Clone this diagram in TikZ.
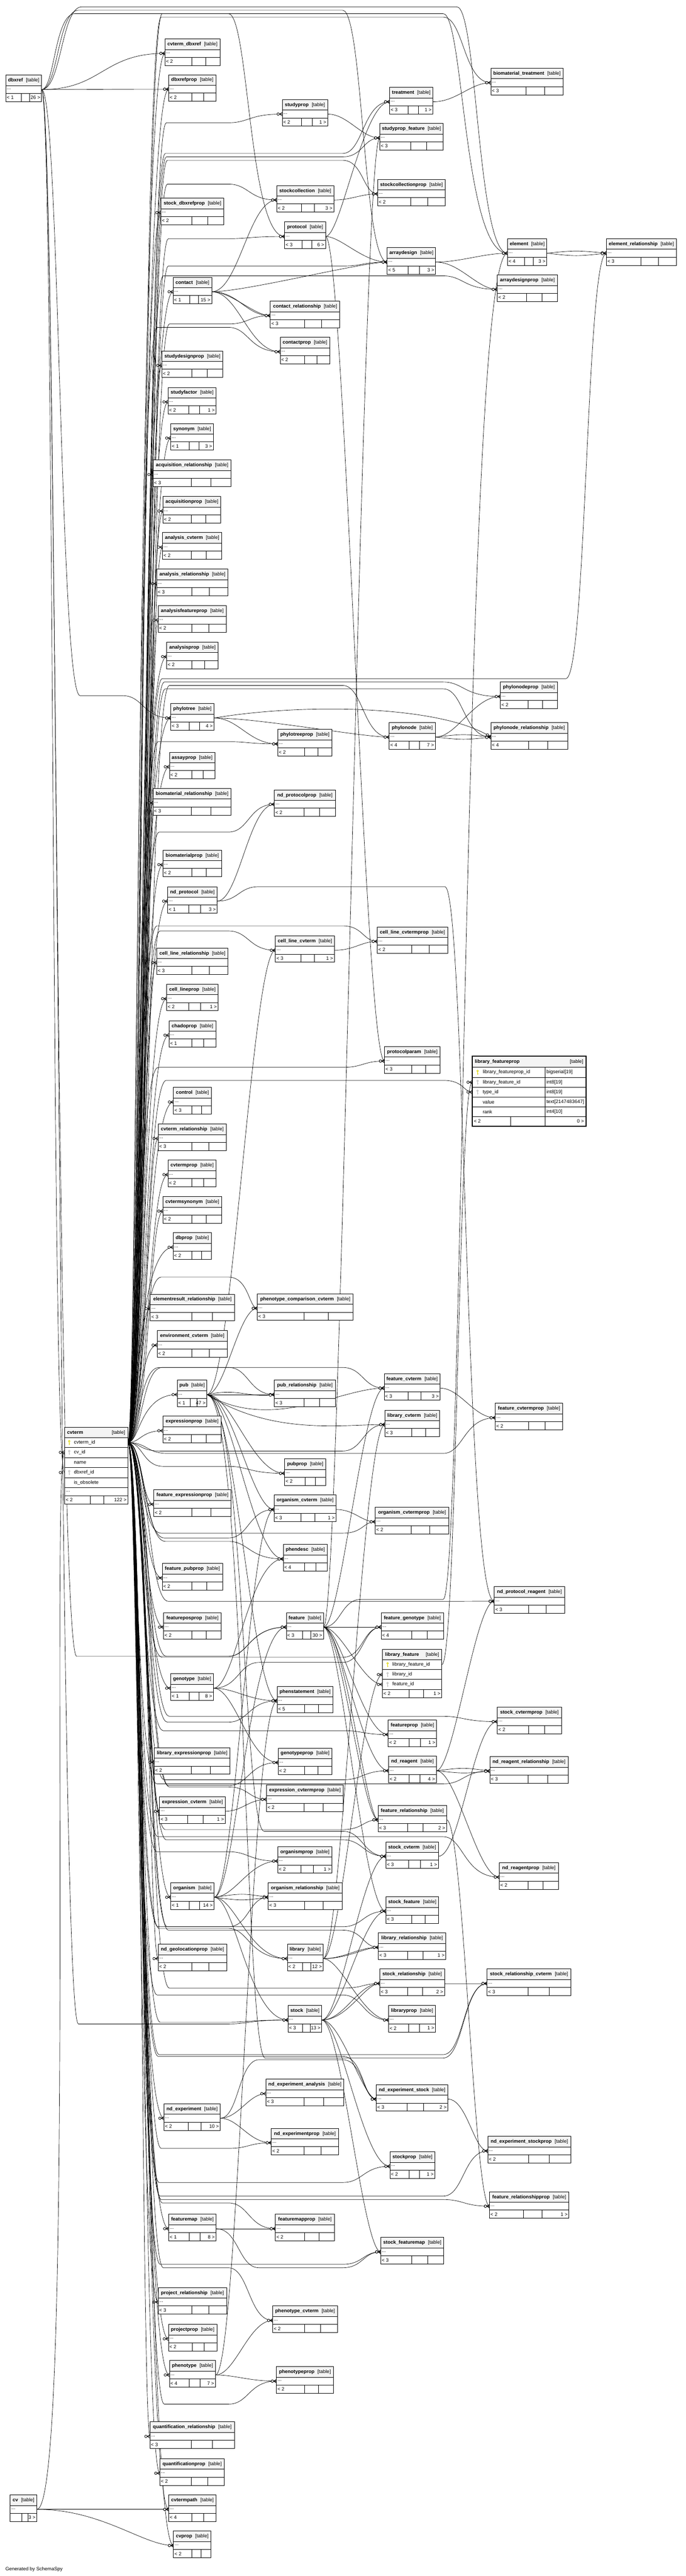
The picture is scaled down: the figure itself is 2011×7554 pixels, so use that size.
\documentclass[tikz,border=0pt]{standalone}
\usepackage{fontspec}
\setmainfont{Liberation Sans}
\usetikzlibrary{calc,backgrounds,arrows.meta}
\definecolor{pkkey}{RGB}{222,214,0}
\definecolor{fkkey}{RGB}{185,185,185}

\pgfdeclarearrow{
  name = crowo,
  parameters = {},
  setup code = {
    \pgfarrowssettipend{0pt}
    \pgfarrowssetlineend{0pt}
    \pgfarrowssetbackend{-16pt}
  },
  drawing code = {
    \pgfsetlinewidth{1.3pt}
    \pgfpathmoveto{\pgfpoint{0pt}{5pt}}
    \pgfpathlineto{\pgfpoint{-8pt}{0pt}}
    \pgfpathlineto{\pgfpoint{0pt}{-5pt}}
    \pgfpathmoveto{\pgfpoint{-8pt}{0pt}}
    \pgfpathlineto{\pgfpoint{0pt}{0pt}}
    \pgfusepathqstroke
    \pgfpathcircle{\pgfpoint{-12pt}{0pt}}{3.6pt}
    \pgfsetfillcolor{white}
    \pgfusepathqfillstroke
  }
}
\pgfdeclarearrow{
  name = baro,
  parameters = {},
  setup code = {
    \pgfarrowssettipend{0pt}
    \pgfarrowssetlineend{0pt}
    \pgfarrowssetbackend{-16pt}
  },
  drawing code = {
    \pgfsetlinewidth{1.6pt}
    \pgfpathmoveto{\pgfpoint{-5pt}{5pt}}
    \pgfpathlineto{\pgfpoint{-5pt}{-5pt}}
    \pgfusepathqstroke
    \pgfpathcircle{\pgfpoint{-12pt}{0pt}}{3.6pt}
    \pgfsetfillcolor{white}
    \pgfsetlinewidth{1.3pt}
    \pgfusepathqfillstroke
  }
}

\newcommand\tbl[6]{%
  \filldraw[tblbox] (#2,#3) rectangle ++(#4,78);
  \filldraw[tblhead] (#2,#3) rectangle ++(#4,31);
  \draw[tblline] (#2,#3+54) -- ++(#4,0);
  \if\relax\detokenize{#6}\relax
    \def\tblsa{0.49}\def\tblsb{0.74}%
  \else
    \def\tblsa{0.43}\def\tblsb{0.66}%
  \fi
  \draw[tblline] (#2+\tblsa*#4,#3+54) -- ++(0,24) (#2+\tblsb*#4,#3+54) -- ++(0,24);
  \node[celltxt] (#1-h) at (#2+#4/2,#3+16) {\textbf{\detokenize{#1}}\hspace{9pt}[table]};
  \node[dotsrow,minimum width=#4pt] (#1) at (#2+#4/2,#3+42.5) {};
  \node[celltxt,anchor=west] (#1-d) at (#2+3,#3+42) {...};
  \node[celltxt,anchor=west] (#1-p) at (#2+3,#3+66.5) {#5};
  \node[celltxt,anchor=east] (#1-c) at (#2+#4-4,#3+66.5) {#6};
}
\newcommand\keyicon[3]{%
  \draw[#3,line width=1.4pt] (#1,#2-4) circle[radius=2.4pt] (#1,#2-1.6) -- (#1,#2+7) (#1,#2+4.5) -- (#1+2.5,#2+4.5);
}

\begin{document}
\begin{tikzpicture}[x=1pt, y=-1pt,
  tblline/.style={draw=black, line width=1.3pt},
  tblbox/.style={tblline, fill=white},
  tblhead/.style={tblline, fill=gray!9},
  celltxt/.style={inner sep=0pt, outer sep=0pt, font=\fontsize{14.3}{16}\selectfont},
  dotsrow/.style={inner sep=0pt, outer sep=0pt, minimum height=23pt},
  fieldrow/.style={inner sep=0pt, outer sep=0pt, minimum height=29pt},
  link/.style={line width=1pt, -{crowo[]}},
  onelink/.style={line width=1pt, -{baro[]}},
  fk/.style 2 args={to path={let \p1=(\tikztostart), \p2=(\tikztotarget) in .. controls (#1pt,\y1) and (#2pt,\y2) .. (\tikztotarget)}},
  far/.style n args={3}{to path={let \p1=(\tikztostart), \p2=(\tikztotarget) in .. controls (#1pt,\y1) and (#1pt,-#2pt) .. (#1pt+60pt,-#2pt) -- (#3pt-60pt,-#2pt) .. controls (#3pt,-#2pt) and (#3pt,\y2) .. (\tikztotarget)}},
  fkxy/.style n args={4}{to path={.. controls (#1,#2) and (#3,#4) .. (\tikztotarget)}}]
\useasboundingbox (0,0) rectangle (2011,7554);

\tbl{dbxref}{17}{220}{105}{< 1}{26 >}
\tbl{cvterm_dbxref}{484}{114}{161}{< 2}{}
\tbl{dbxrefprop}{495}{219}{138}{< 2}{}
\tbl{studyprop}{828}{292}{133}{< 2}{1 >}
\tbl{stockcollection}{812}{544}{167}{< 2}{3 >}
\tbl{stock_dbxrefprop}{472}{581}{185}{< 2}{}
\tbl{protocol}{835}{651}{120}{< 3}{6 >}
\tbl{contact}{508}{813}{113}{< 1}{15 >}
\tbl{contact_relationship}{793}{883}{204}{< 3}{}
\tbl{contactprop}{822}{989}{145}{< 2}{}
\tbl{treatment}{1143}{256}{127}{< 3}{1 >}
\tbl{biomaterial_treatment}{1440}{200}{212}{< 3}{}
\tbl{studyprop_feature}{1114}{362}{186}{< 3}{}
\tbl{stockcollectionprop}{1108}{526}{198}{< 2}{}
\tbl{element}{1489}{700}{115}{< 4}{3 >}
\tbl{element_relationship}{1779}{700}{205}{< 3}{}
\tbl{arraydesign}{1136}{726}{142}{< 5}{3 >}
\tbl{arraydesignprop}{1459}{806}{176}{< 2}{}
\tbl{studydesignprop}{475}{1029}{179}{< 2}{}
\tbl{studyfactor}{493}{1136}{141}{< 2}{1 >}
\tbl{synonym}{501}{1242}{125}{< 1}{3 >}
\tbl{acquisition_relationship}{449}{1349}{229}{< 3}{}
\tbl{acquisitionprop}{478}{1456}{170}{< 2}{}
\tbl{analysis_cvterm}{477}{1562}{173}{< 2}{}
\tbl{analysis_relationship}{460}{1669}{209}{< 3}{}
\tbl{analysisfeatureprop}{464}{1776}{200}{< 2}{}
\tbl{analysisprop}{489}{1883}{151}{< 2}{}
\tbl{phylotree}{501}{2063}{127}{< 3}{4 >}
\tbl{phylotreeprop}{815}{2139}{159}{< 2}{}
\tbl{assayprop}{497}{2206}{133}{< 2}{}
\tbl{phylonodeprop}{1468}{2000}{167}{< 2}{}
\tbl{phylonode}{1142}{2119}{135}{< 4}{7 >}
\tbl{phylonode_relationship}{1440}{2119}{225}{< 4}{}
\tbl{biomaterial_relationship}{449}{2312}{229}{< 3}{}
\tbl{nd_protocolprop}{805}{2316}{179}{< 2}{}
\tbl{biomaterialprop}{478}{2493}{172}{< 2}{}
\tbl{nd_protocol}{492}{2600}{145}{< 1}{3 >}
\tbl{cell_line_cvtermprop}{1107}{2718}{206}{< 2}{}
\tbl{cell_line_cvterm}{808}{2744}{173}{< 3}{1 >}
\tbl{cell_line_relationship}{460}{2780}{209}{< 3}{}
\tbl{cell_lineprop}{489}{2886}{151}{< 2}{1 >}
\tbl{chadoprop}{496}{2993}{137}{< 1}{}
\tbl{protocolparam}{1128}{3069}{163}{< 3}{}
\tbl{control}{509}{3189}{111}{< 3}{}
\tbl{cvterm_relationship}{464}{3296}{200}{< 3}{}
\tbl{cvtermprop}{493}{3402}{141}{< 2}{}
\tbl{cvtermsynonym}{478}{3509}{172}{< 2}{}
\tbl{dbprop}{508}{3615}{112}{< 2}{}
\tbl{elementresult_relationship}{441}{3795}{247}{< 3}{}
\tbl{phenotype_comparison_cvterm}{755}{3794}{281}{< 3}{}
\tbl{environment_cvterm}{461}{3902}{206}{< 2}{}
\tbl{pub}{520}{4047}{87}{< 1}{47 >}
\tbl{pub_relationship}{805}{4047}{179}{< 3}{}
\tbl{expressionprop}{478}{4153}{171}{< 2}{}
\tbl{feature_cvterm}{1127}{4028}{164}{< 3}{3 >}
\tbl{library_cvterm}{1129}{4135}{161}{< 3}{}
\tbl{feature_cvtermprop}{1453}{4115}{198}{< 2}{}
\tbl{pubprop}{835}{4278}{121}{< 2}{}
\tbl{organism_cvterm}{804}{4384}{182}{< 3}{1 >}
\tbl{organism_cvtermprop}{1101}{4420}{216}{< 2}{}
\tbl{feature_expressionprop}{451}{4369}{227}{< 2}{}
\tbl{phendesc}{831}{4529}{129}{< 4}{}
\tbl{feature_pubprop}{476}{4585}{177}{< 2}{}
\tbl{nd_protocol_reagent}{1450}{4653}{206}{< 3}{}
\tbl{featureposprop}{480}{4729}{169}{< 2}{}
\tbl{feature}{840}{4729}{109}{< 3}{30 >}
\tbl{feature_genotype}{1118}{4729}{183}{< 4}{}
\tbl{genotype}{501}{4908}{125}{< 1}{8 >}
\tbl{phenstatement}{813}{4945}{164}{< 5}{}
\tbl{stock_cvtermprop}{1459}{5006}{188}{< 2}{}
\tbl{featureprop}{1139}{5044}{142}{< 2}{1 >}
\tbl{library_expressionprop}{452}{5125}{223}{< 2}{}
\tbl{genotypeprop}{816}{5126}{158}{< 2}{}
\tbl{nd_reagent}{1140}{5150}{140}{< 2}{4 >}
\tbl{nd_reagent_relationship}{1437}{5151}{230}{< 3}{}
\tbl{expression_cvtermprop}{782}{5234}{225}{< 2}{}
\tbl{expression_cvterm}{468}{5269}{193}{< 3}{1 >}
\tbl{feature_relationship}{1109}{5294}{201}{< 3}{2 >}
\tbl{stock_cvterm}{1132}{5401}{154}{< 3}{1 >}
\tbl{organismprop}{815}{5415}{159}{< 2}{1 >}
\tbl{nd_reagentprop}{1465}{5462}{173}{< 2}{}
\tbl{organism}{501}{5521}{127}{< 1}{14 >}
\tbl{organism_relationship}{787}{5521}{217}{< 3}{}
\tbl{stock_feature}{1132}{5562}{155}{< 3}{}
\tbl{library_relationship}{1110}{5668}{198}{< 3}{1 >}
\tbl{nd_geolocationprop}{464}{5701}{201}{< 2}{}
\tbl{library}{843}{5701}{105}{< 2}{12 >}
\tbl{stock_relationship}{1114}{5774}{190}{< 3}{2 >}
\tbl{stock_relationship_cvterm}{1429}{5774}{246}{< 3}{}
\tbl{stock}{845}{5881}{99}{< 3}{13 >}
\tbl{libraryprop}{1140}{5881}{138}{< 2}{1 >}
\tbl{nd_experiment_analysis}{780}{6097}{229}{< 3}{}
\tbl{nd_experiment_stock}{1104}{6113}{210}{< 3}{2 >}
\tbl{nd_experiment}{481}{6169}{165}{< 2}{10 >}
\tbl{nd_experimentprop}{796}{6241}{197}{< 2}{}
\tbl{nd_experiment_stockprop}{1431}{6265}{244}{< 2}{}
\tbl{stockprop}{1144}{6310}{132}{< 2}{1 >}
\tbl{feature_relationshipprop}{1436}{6427}{233}{< 2}{1 >}
\tbl{featuremap}{495}{6493}{139}{< 1}{8 >}
\tbl{featuremapprop}{808}{6493}{173}{< 2}{}
\tbl{stock_featuremap}{1117}{6561}{185}{< 3}{}
\tbl{project_relationship}{464}{6708}{201}{< 3}{}
\tbl{phenotype_cvterm}{800}{6762}{190}{< 2}{}
\tbl{projectprop}{494}{6816}{142}{< 2}{}
\tbl{phenotype}{497}{6922}{135}{< 4}{7 >}
\tbl{phenotypeprop}{811}{6940}{167}{< 2}{}
\tbl{quantification_relationship}{440}{7102}{248}{< 3}{}
\tbl{quantificationprop}{469}{7210}{189}{< 2}{}
\tbl{cvtermpath}{495}{7316}{139}{< 4}{}
\tbl{cvprop}{509}{7422}{110}{< 2}{}
\tbl{cv}{30}{7316}{78}{}{3 >}

\filldraw[tblbox] (189,4185) rectangle (375,4410);
\filldraw[tblhead] (189,4185) rectangle (375,4215.5);
\draw[tblline] (189,4244.5) -- (375,4244.5) (189,4274) -- (375,4274) (189,4303.5) -- (375,4303.5) (189,4333) -- (375,4333) (189,4362) -- (375,4362) (189,4386) -- (375,4386) (265,4386) -- (265,4410) (305,4386) -- (305,4410);
\node[celltxt,anchor=west] (cvterm-h) at (197,4201) {\textbf{cvterm}};
\node[celltxt,anchor=east] (cvterm-t) at (367,4201) {[table]};
\node[fieldrow,minimum width=186pt] (cvterm) at (282,4230) {};
\node[fieldrow,minimum width=186pt] (cvterm-cv) at (282,4259) {};
\node[fieldrow,minimum width=186pt] (cvterm-dbxref) at (282,4318) {};
\node[celltxt,anchor=west] (cvterm-f1) at (217,4230) {cvterm\_id};
\node[celltxt,anchor=west] (cvterm-f2) at (217,4259) {cv\_id};
\node[celltxt,anchor=west] (cvterm-f3) at (217,4288.5) {name};
\node[celltxt,anchor=west] (cvterm-f4) at (217,4318) {dbxref\_id};
\node[celltxt,anchor=west] (cvterm-f5) at (217,4347.5) {is\_obsolete};
\node[celltxt,anchor=west] (cvterm-d) at (193,4373) {...};
\node[celltxt,anchor=west] (cvterm-p) at (193,4398) {< 2};
\node[celltxt,anchor=east] (cvterm-c) at (371,4398) {122 >};
\keyicon{203}{4230}{pkkey}
\keyicon{203}{4259}{fkkey}
\keyicon{203}{4318}{fkkey}

\filldraw[tblbox] (1385,3097) rectangle (1719,3302);
\fill[gray!9] (1385,3097) rectangle (1719,3130);
\draw[tblline] (1385,3130) -- (1719,3130) (1385,3159) -- (1719,3159) (1385,3188) -- (1719,3188) (1385,3217) -- (1719,3217) (1385,3246) -- (1719,3246) (1385,3275) -- (1719,3275) (1599,3130) -- (1599,3302) (1498,3275) -- (1498,3302);
\draw[line width=3pt] (1385,3097) rectangle (1719,3302);
\node[celltxt,anchor=west] (library_featureprop-h) at (1393,3114) {\textbf{library\_featureprop}};
\node[celltxt,anchor=east] (library_featureprop-t) at (1711,3114) {[table]};
\node[fieldrow,minimum width=334pt] (library_featureprop) at (1552,3144.5) {};
\node[fieldrow,minimum width=334pt] (library_featureprop-lf) at (1552,3173.5) {};
\node[fieldrow,minimum width=334pt] (library_featureprop-type) at (1552,3202.5) {};
\node[celltxt,anchor=west] (library_featureprop-f1) at (1416,3144.5) {library\_featureprop\_id};
\node[celltxt,anchor=west] (library_featureprop-f2) at (1416,3173.5) {library\_feature\_id};
\node[celltxt,anchor=west] (library_featureprop-f3) at (1416,3202.5) {type\_id};
\node[celltxt,anchor=west] (library_featureprop-f4) at (1416,3231.5) {value};
\node[celltxt,anchor=west] (library_featureprop-f5) at (1416,3260.5) {rank};
\node[celltxt,anchor=west] (library_featureprop-y1) at (1603,3144.5) {bigserial[19]};
\node[celltxt,anchor=west] (library_featureprop-y2) at (1603,3173.5) {int8[19]};
\node[celltxt,anchor=west] (library_featureprop-y3) at (1603,3202.5) {int8[19]};
\node[celltxt,anchor=west] (library_featureprop-y4) at (1603,3231.5) {text[2147483647]};
\node[celltxt,anchor=west] (library_featureprop-y5) at (1603,3260.5) {int4[10]};
\node[celltxt,anchor=west] (library_featureprop-p) at (1390,3288.5) {< 2};
\node[celltxt,anchor=east] (library_featureprop-c) at (1713,3288.5) {0 >};
\keyicon{1401}{3144.5}{pkkey}
\keyicon{1401}{3173.5}{fkkey}
\keyicon{1401}{3202.5}{fkkey}

\filldraw[tblbox] (1122,4836) rectangle (1296,4978);
\filldraw[tblhead] (1122,4836) rectangle (1296,4867);
\draw[tblline] (1122,4896) -- (1296,4896) (1122,4925) -- (1296,4925) (1122,4954) -- (1296,4954) (1200,4954) -- (1200,4978) (1242,4954) -- (1242,4978);
\node[celltxt,anchor=west] (library_feature-h) at (1130,4852) {\textbf{library\_feature}};
\node[celltxt,anchor=east] (library_feature-t) at (1288,4852) {[table]};
\node[fieldrow,minimum width=174pt] (library_feature) at (1209,4881.5) {};
\node[fieldrow,minimum width=174pt] (library_feature-lib) at (1209,4910.5) {};
\node[fieldrow,minimum width=174pt] (library_feature-feat) at (1209,4939.5) {};
\node[celltxt,anchor=west] (library_feature-f1) at (1151,4881.5) {library\_feature\_id};
\node[celltxt,anchor=west] (library_feature-f2) at (1151,4910.5) {library\_id};
\node[celltxt,anchor=west] (library_feature-f3) at (1151,4939.5) {feature\_id};
\node[celltxt,anchor=west] (library_feature-p) at (1125,4966) {< 2};
\node[celltxt,anchor=east] (library_feature-c) at (1292,4966) {1 >};
\keyicon{1137}{4881.5}{pkkey}
\keyicon{1137}{4910.5}{fkkey}
\keyicon{1137}{4939.5}{fkkey}

\node[celltxt,anchor=west] (footer) at (16,7535) {Generated by SchemaSpy};

\begin{scope}[on background layer]
\fill[white] (0,0) rectangle (2011,7554);

\draw[link] (cvterm.east) to[fk={404}{404}] (cvterm_dbxref.west);
\draw[link] (cvterm.east) to[fk={407}{407}] (dbxrefprop.west);
\draw[link] (cvterm.east) to[fk={410}{410}] (stock_dbxrefprop.west);
\draw[link] (cvterm.east) to[fk={413}{413}] (contact.west);
\draw[link] (cvterm.east) to[fk={416}{416}] (studydesignprop.west);
\draw[link] (cvterm.east) to[fk={419}{419}] (studyfactor.west);
\draw[link] (cvterm.east) to[fk={422}{422}] (synonym.west);
\draw[link] (cvterm.east) to[fk={425}{425}] (acquisition_relationship.west);
\draw[link] (cvterm.east) to[fk={428}{428}] (acquisitionprop.west);
\draw[link] (cvterm.east) to[fk={431}{431}] (analysis_cvterm.west);
\draw[link] (cvterm.east) to[fk={434}{434}] (analysis_relationship.west);
\draw[link] (cvterm.east) to[fk={437}{437}] (analysisfeatureprop.west);
\draw[link] (cvterm.east) to[fk={401}{401}] (analysisprop.west);
\draw[link] (cvterm.east) to[fk={404}{404}] (phylotree.west);
\draw[link] (cvterm.east) to[fk={407}{407}] (assayprop.west);
\draw[link] (cvterm.east) to[fk={410}{410}] (biomaterial_relationship.west);
\draw[link] (cvterm.east) to[fk={413}{413}] (biomaterialprop.west);
\draw[link] (cvterm.east) to[fk={416}{416}] (nd_protocol.west);
\draw[link] (cvterm.east) to[fk={419}{419}] (cell_line_relationship.west);
\draw[link] (cvterm.east) to[fk={422}{422}] (cell_lineprop.west);
\draw[link] (cvterm.east) to[fk={425}{425}] (chadoprop.west);
\draw[link] (cvterm.east) to[fk={428}{428}] (control.west);
\draw[link] (cvterm.east) to[fk={431}{431}] (cvterm_relationship.west);
\draw[link] (cvterm.east) to[fk={434}{434}] (cvtermprop.west);
\draw[link] (cvterm.east) to[fk={437}{437}] (cvtermsynonym.west);
\draw[link] (cvterm.east) to[fk={401}{401}] (dbprop.west);
\draw[link] (cvterm.east) to[fk={404}{404}] (elementresult_relationship.west);
\draw[link] (cvterm.east) to[fk={407}{407}] (environment_cvterm.west);
\draw[link] (cvterm.east) to[fk={410}{410}] (pub.west);
\draw[link] (cvterm.east) to[fk={413}{413}] (expressionprop.west);
\draw[link] (cvterm.east) to[fk={416}{416}] (feature_expressionprop.west);
\draw[link] (cvterm.east) to[fk={419}{419}] (feature_pubprop.west);
\draw[link] (cvterm.east) to[fk={422}{422}] (featureposprop.west);
\draw[link] (cvterm.east) to[fk={425}{425}] (genotype.west);
\draw[link] (cvterm.east) to[fk={428}{428}] (library_expressionprop.west);
\draw[link] (cvterm.east) to[fk={431}{431}] (expression_cvterm.west);
\draw[link] (cvterm.east) to[fk={434}{434}] (organism.west);
\draw[link] (cvterm.east) to[fk={437}{437}] (nd_geolocationprop.west);
\draw[link] (cvterm.east) to[fk={401}{401}] (nd_experiment.west);
\draw[link] (cvterm.east) to[fk={404}{404}] (featuremap.west);
\draw[link] (cvterm.east) to[fk={407}{407}] (project_relationship.west);
\draw[link] (cvterm.east) to[fk={410}{410}] (projectprop.west);
\draw[link] (cvterm.east) to[fk={413}{413}] (phenotype.west);
\draw[link] (cvterm.east) to[fk={416}{416}] (quantification_relationship.west);
\draw[link] (cvterm.east) to[fk={419}{419}] (quantificationprop.west);
\draw[link] (cvterm.east) to[fk={422}{422}] (cvtermpath.west);
\draw[link] (cvterm.east) to[fk={425}{425}] (cvprop.west);

\draw[link] (cvterm.east) to[far={428}{360}{730}] (studyprop.west);
\draw[link] (cvterm.east) to[far={431}{540}{730}] (stockcollection.west);
\draw[link] (cvterm.east) to[far={434}{700}{730}] (protocol.west);
\draw[link] (cvterm.east) to[far={437}{950}{730}] (contact_relationship.west);
\draw[link] (cvterm.east) to[far={401}{960}{730}] (contactprop.west);
\draw[link] (cvterm.east) to[far={404}{2175}{730}] (phylotreeprop.west);
\draw[link] (cvterm.east) to[far={407}{2440}{730}] (nd_protocolprop.west);
\draw[link] (cvterm.east) to[far={410}{2730}{730}] (cell_line_cvterm.west);
\draw[link] (cvterm.east) to[far={413}{3745}{730}] (phenotype_comparison_cvterm.west);
\draw[link] (cvterm.east) to[far={416}{4010}{730}] (pub_relationship.west);
\draw[link] (cvterm.east) to[far={419}{4300}{730}] (pubprop.west);
\draw[link] (cvterm.east) to[far={422}{4510}{730}] (organism_cvterm.west);
\draw[link] (cvterm.east) to[far={425}{4520}{730}] (phendesc.west);
\draw[link] (cvterm.east) to[far={428}{4857}{730}] (feature.west);
\draw[link] (cvterm.east) to[far={431}{5050}{730}] (phenstatement.west);
\draw[link] (cvterm.east) to[far={434}{5236}{730}] (genotypeprop.west);
\draw[link] (cvterm.east) to[far={437}{5240}{730}] (expression_cvtermprop.west);
\draw[link] (cvterm.east) to[far={401}{5430}{730}] (organismprop.west);
\draw[link] (cvterm.east) to[far={404}{5650}{730}] (organism_relationship.west);
\draw[link] (cvterm.east) to[far={407}{5655}{730}] (library.west);
\draw[link] (cvterm.east) to[far={410}{5930}{730}] (stock.west);
\draw[link] (cvterm.east) to[far={413}{6300}{730}] (nd_experimentprop.west);
\draw[link] (cvterm.east) to[far={416}{6460}{730}] (featuremapprop.west);
\draw[link] (cvterm.east) to[far={419}{6650}{730}] (phenotype_cvterm.west);
\draw[link] (cvterm.east) to[far={422}{7050}{730}] (phenotypeprop.west);

\draw[link] (cvterm.east) to[far={425}{450}{1065}] (treatment.west);
\draw[link] (cvterm.east) to[far={428}{460}{1065}] (studyprop_feature.west);
\draw[link] (cvterm.east) to[far={431}{470}{1065}] (stockcollectionprop.west);
\draw[link] (cvterm.east) to[far={434}{780}{1065}] (arraydesign.west);
\draw[link] (cvterm.east) to[far={437}{2010}{1065}] (phylonode.west);
\draw[link] (cvterm.east) to[far={401}{2715}{1065}] (cell_line_cvtermprop.west);
\draw[link] (cvterm.east) to[far={404}{3130}{1065}] (protocolparam.west);
\draw[link] (cvterm.east) to[far={407}{4010}{1065}] (feature_cvterm.west);
\draw[link] (cvterm.east) to[far={410}{4255}{1065}] (library_cvterm.west);
\draw[link] (cvterm.east) to[far={413}{4496}{1065}] (organism_cvtermprop.west);
\draw[link] (cvterm.east) to[far={416}{4860}{1065}] (feature_genotype.west);
\draw[link] (cvterm.east) to[far={419}{5075}{1065}] (featureprop.west);
\draw[link] (cvterm.east) to[far={422}{5219}{1065}] (nd_reagent.west);
\draw[link] (cvterm.east) to[far={425}{5365}{1065}] (feature_relationship.west);
\draw[link] (cvterm.east) to[far={428}{5395}{1065}] (stock_cvterm.west);
\draw[link] (cvterm.east) to[far={431}{5650}{1065}] (stock_feature.west);
\draw[link] (cvterm.east) to[far={434}{5660}{1065}] (library_relationship.west);
\draw[link] (cvterm.east) to[far={437}{5830}{1065}] (stock_relationship.west);
\draw[link] (cvterm.east) to[far={401}{5850}{1065}] (libraryprop.west);
\draw[link] (cvterm.east) to[far={404}{6030}{1065}] (nd_experiment_stock.west);
\draw[link] (cvterm.east) to[far={407}{6400}{1065}] (stockprop.west);
\draw[link] (cvterm.east) to[far={410}{6640}{1065}] (stock_featuremap.west);

\draw[link] (cvterm.east) to[far={413}{50}{1360}] (biomaterial_treatment.west);
\draw[link] (cvterm.east) to[far={416}{40}{1360}] (element.west);
\draw[link] (cvterm.east) to[far={419}{809}{1360}] (arraydesignprop.west);
\draw[link] (cvterm.east) to[far={422}{2000}{1360}] (phylonodeprop.west);
\draw[link] (cvterm.east) to[far={425}{2020}{1360}] (phylonode_relationship.west);
\draw[link] (cvterm.east) to[far={428}{3168}{1360}] (library_featureprop-type.west);
\draw[link] (cvterm.east) to[far={431}{4262}{1360}] (feature_cvtermprop.west);
\draw[link] (cvterm.east) to[far={434}{4696}{1360}] (nd_protocol_reagent.west);
\draw[link] (cvterm.east) to[far={437}{5033}{1360}] (stock_cvtermprop.west);
\draw[link] (cvterm.east) to[far={401}{5231}{1360}] (nd_reagent_relationship.west);
\draw[link] (cvterm.east) to[far={404}{5386}{1360}] (nd_reagentprop.west);
\draw[link] (cvterm.east) to[far={407}{6025}{1360}] (stock_relationship_cvterm.west);
\draw[link] (cvterm.east) to[far={410}{6440}{1360}] (nd_experiment_stockprop.west);
\draw[link] (cvterm.east) to[far={413}{6450}{1360}] (feature_relationshipprop.west);
\draw[link] (cvterm.east) to[far={416}{1990}{1720}] (element_relationship.west);

\draw[link] (dbxref.east) to[fk={300}{300}] (cvterm_dbxref.west);
\draw[link] (dbxref.east) to[fk={300}{300}] (dbxrefprop.west);
\draw[link] (dbxref.east) to[far={160}{40}{730}] (protocol.west);
\draw[link] (dbxref.east) to[far={170}{30}{1065}] (arraydesign.west);
\draw[link] (dbxref.east) to[far={180}{20}{1400}] (element.west);
\draw[link] (dbxref.east) to[far={175}{2040}{420}] (phylotree.west);
\draw[link] (dbxref.east) to[far={165}{4857}{730}] (feature.west);
\draw[link] (dbxref.east) to[far={170}{5935}{730}] (stock.west);
\draw[onelink] (dbxref.east) to[fk={160}{150}] (cvterm-dbxref.west);

\draw[link] (cv.east) to[fk={220}{150}] (cvterm-cv.west);
\draw[link] (cv.east) to[fk={300}{300}] (cvtermpath.west);
\draw[link] (cv.east) to[fk={300}{420}] (cvprop.west);

\draw[link] (contact.east) to[fk={700}{730}] (stockcollection.west);
\draw[link] (contact.east) to[fk={700}{720}] (contact_relationship.west);
\draw[link] (contact.east) to[fk={680}{745}] (contact_relationship.west);
\draw[link] (contact.east) to[fk={700}{730}] (contactprop.west);
\draw[link] (contact.east) to[fk={720}{1060}] (arraydesign.west);

\draw[link] (protocol.east) to[fk={1000}{1065}] (treatment.west);
\draw[link] (protocol.east) to[fk={1000}{1065}] (arraydesign.west);
\draw[link] (protocol.east) to[fk={1010}{1070}] (protocolparam.west);
\draw[link] (stockcollection.east) to[fk={1030}{1060}] (stockcollectionprop.west);
\draw[link] (studyprop.east) to[fk={1020}{1060}] (studyprop_feature.west);
\draw[link] (treatment.east) to[fk={1340}{1380}] (biomaterial_treatment.west);
\draw[link] (arraydesign.east) to[fk={1350}{1420}] (element.west);
\draw[link] (arraydesign.east) to[fk={1350}{1400}] (arraydesignprop.west);
\draw[link] (element.east) to[fkxy={1690}{734}{1690}{734}] (element_relationship.west);
\draw[link] (element.east) to[fkxy={1690}{752}{1690}{752}] (element_relationship.west);

\draw[link] (phylotree.east) to[fk={700}{730}] (phylotreeprop.west);
\draw[link] (phylotree.east) to[fk={760}{1060}] (phylonode.west);
\draw[link] (phylotree.east) to[fkxy={900}{2060}{1300}{2070}] (phylonode_relationship.west);
\draw[link] (phylonode.east) to[fk={1340}{1390}] (phylonodeprop.west);
\draw[link] (phylonode.east) to[fkxy={1360}{2152}{1360}{2152}] (phylonode_relationship.west);
\draw[link] (phylonode.east) to[fkxy={1360}{2170}{1360}{2170}] (phylonode_relationship.west);

\draw[link] (nd_protocol.east) to[fk={700}{730}] (nd_protocolprop.west);
\draw[link] (nd_protocol.east) to[far={700}{2600}{1365}] (nd_protocol_reagent.west);
\draw[link] (cell_line_cvterm.east) to[fk={1040}{1060}] (cell_line_cvtermprop.west);

\draw[link] (pub.east) to[fk={700}{730}] (pub_relationship.west);
\draw[link] (pub.east) to[fkxy={700}{4070}{730}{4100}] (pub_relationship.west);
\draw[link] (pub.east) to[fk={680}{740}] (pubprop.west);
\draw[link] (pub.east) to[fk={660}{700}] (phenotype_comparison_cvterm.west);
\draw[link] (pub.east) to[fkxy={800}{4200}{1000}{4070}] (feature_cvterm.west);
\draw[link] (pub.east) to[fkxy={800}{4210}{1000}{4177}] (library_cvterm.west);
\draw[link] (pub.east) to[fk={680}{740}] (organism_cvterm.west);
\draw[link] (pub.east) to[fk={680}{740}] (phendesc.west);
\draw[link] (pub.east) to[fk={690}{740}] (phenstatement.west);
\draw[link] (pub.east) to[fk={680}{740}] (cell_line_cvterm.west);
\draw[link] (pub.east) to[far={715}{5370}{1065}] (stock_cvterm.west);
\draw[link] (pub.east) to[far={718}{6035}{1360}] (stock_relationship_cvterm.west);

\draw[link] (feature.east) to[fk={1000}{1065}] (feature_cvterm.west);
\draw[link] (feature.east) to[fk={1000}{1065}] (feature_genotype.west);
\draw[link] (feature.east) to[fk={1000}{1065}] (library_feature-feat.west);
\draw[link] (feature.east) to[fk={1000}{1065}] (featureprop.west);
\draw[link] (feature.east) to[fk={1000}{1065}] (nd_reagent.west);
\draw[link] (feature.east) to[fk={1000}{1065}] (feature_relationship.west);
\draw[link] (feature.east) to[fk={1010}{1075}] (feature_relationship.west);
\draw[link] (feature.east) to[fk={1000}{1065}] (stock_feature.west);
\draw[link] (feature.east) to[fk={1000}{1060}] (studyprop_feature.west);
\draw[link] (feature.east) to[far={1000}{4690}{1360}] (element.west);

\draw[link] (library.east) to[fk={1000}{1065}] (library_cvterm.west);
\draw[link] (library.east) to[fk={1000}{1065}] (library_feature-lib.west);
\draw[link] (library.east) to[fk={1010}{1050}] (library_relationship.west);
\draw[link] (library.east) to[fk={1020}{1070}] (library_relationship.west);
\draw[link] (library.east) to[fk={1000}{1065}] (libraryprop.west);

\draw[link] (organism.east) to[fk={690}{730}] (organism_cvterm.west);
\draw[link] (organism.east) to[fk={690}{730}] (organismprop.west);
\draw[link] (organism.east) to[fkxy={710}{5552}{710}{5552}] (organism_relationship.west);
\draw[link] (organism.east) to[fkxy={710}{5574}{710}{5574}] (organism_relationship.west);
\draw[link] (organism.east) to[fk={690}{730}] (feature.west);
\draw[link] (organism.east) to[fk={690}{730}] (library.west);
\draw[link] (organism.east) to[fk={690}{730}] (stock.west);

\draw[link] (organism_cvterm.east) to[fk={1040}{1060}] (organism_cvtermprop.west);
\draw[link] (feature_cvterm.east) to[fk={1350}{1390}] (feature_cvtermprop.west);
\draw[link] (library_feature.east) to[fk={1340}{1345}] (library_featureprop-lf.west);

\draw[link] (genotype.east) to[fk={690}{730}] (phenstatement.west);
\draw[link] (genotype.east) to[far={700}{4875}{1065}] (feature_genotype.west);
\draw[link] (genotype.east) to[fk={690}{730}] (genotypeprop.west);
\draw[link] (genotype.east) to[fk={690}{730}] (phendesc.west);

\draw[link] (phenotype.east) to[fk={690}{730}] (phenotype_cvterm.west);
\draw[link] (phenotype.east) to[fk={690}{730}] (phenotypeprop.west);
\draw[link] (phenotype.east) to[fk={700}{735}] (phenstatement.west);

\draw[link] (stock.east) to[fk={1000}{1065}] (stock_cvterm.west);
\draw[link] (stock.east) to[fk={1000}{1065}] (stock_feature.west);
\draw[link] (stock.east) to[fk={1010}{1050}] (stock_relationship.west);
\draw[link] (stock.east) to[fk={1020}{1070}] (stock_relationship.west);
\draw[link] (stock.east) to[fk={1000}{1065}] (stockprop.west);
\draw[link] (stock.east) to[fk={1000}{1065}] (nd_experiment_stock.west);
\draw[link] (stock.east) to[fk={1000}{1065}] (stock_featuremap.west);
\draw[link] (stock_cvterm.east) to[fk={1350}{1390}] (stock_cvtermprop.west);
\draw[link] (stock_relationship.east) to[fk={1360}{1370}] (stock_relationship_cvterm.west);

\draw[link] (nd_reagent.east) to[fkxy={1360}{5183}{1360}{5183}] (nd_reagent_relationship.west);
\draw[link] (nd_reagent.east) to[fkxy={1360}{5201}{1360}{5201}] (nd_reagent_relationship.west);
\draw[link] (nd_reagent.east) to[fk={1340}{1400}] (nd_reagentprop.west);
\draw[link] (nd_reagent.east) to[fk={1330}{1395}] (nd_protocol_reagent.west);
\draw[link] (feature_relationship.east) to[fk={1360}{1390}] (feature_relationshipprop.west);

\draw[link] (nd_experiment.east) to[fk={700}{730}] (nd_experiment_analysis.west);
\draw[link] (nd_experiment.east) to[fk={700}{730}] (nd_experimentprop.west);
\draw[link] (nd_experiment.east) to[far={700}{6040}{1065}] (nd_experiment_stock.west);
\draw[link] (nd_experiment_stock.east) to[fk={1370}{1390}] (nd_experiment_stockprop.west);
\draw[link] (featuremap.east) to[fk={700}{730}] (featuremapprop.west);
\draw[link] (featuremap.east) to[far={700}{6650}{1065}] (stock_featuremap.west);
\draw[link] (expression_cvterm.east) to[fk={710}{730}] (expression_cvtermprop.west);
\end{scope}
\end{tikzpicture}
\end{document}
